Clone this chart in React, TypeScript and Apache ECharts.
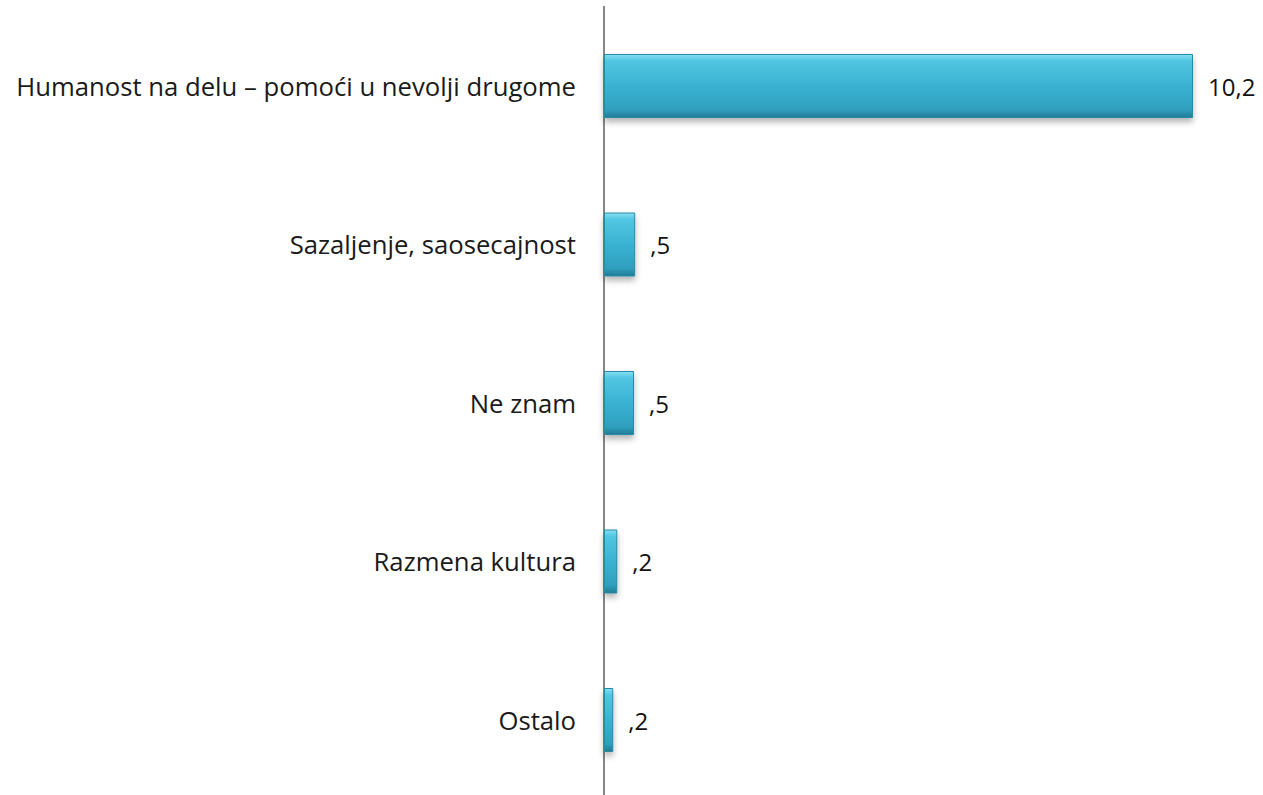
import React, { useEffect, useRef } from "react";
import * as echarts from "echarts";

const categories = [
  "Humanost na delu – pomoći u nevolji drugome",
  "Sazaljenje, saosecajnost",
  "Ne znam",
  "Razmena kultura",
  "Ostalo",
];
const values = [10.2, 0.54, 0.52, 0.23, 0.16];

const fmt = (v: number) => {
  let s = v.toFixed(1).replace(".", ",");
  if (s.startsWith("0,")) s = s.slice(1);
  return s;
};

export default function App() {
  const ref = useRef<HTMLDivElement>(null);
  useEffect(() => {
    if (!ref.current) return;
    const chart = echarts.init(ref.current, null, { renderer: "svg" });
    chart.setOption({
      animation: false,
      backgroundColor: "#ffffff",
      grid: { left: 604, right: 70, top: 6.75, bottom: 0.75, containLabel: false },
      xAxis: {
        type: "value",
        min: 0,
        max: 10.2,
        show: false,
      },
      yAxis: {
        type: "category",
        data: categories,
        inverse: true,
        axisLine: { show: true, lineStyle: { color: "#868686", width: 2 } },
        axisTick: { show: false },
        axisLabel: {
          margin: 28,
          fontFamily: "Open Sans",
          fontSize: 25.7,
          color: "#1a1a1a",
        },
      },
      series: [
        {
          type: "bar",
          data: values,
          barWidth: 64,
          itemStyle: {
            color: new echarts.graphic.LinearGradient(0, 0, 0, 1, [
              { offset: 0, color: "#86e0f2" },
              { offset: 0.1, color: "#52c6e2" },
              { offset: 0.5, color: "#3ab2d2" },
              { offset: 0.88, color: "#2f9fbe" },
              { offset: 1, color: "#227b94" },
            ]),
            borderColor: "#2a8aa6",
            borderWidth: 1,
            shadowBlur: 6,
            shadowOffsetY: 4,
            shadowColor: "rgba(0,0,0,0.3)",
          },
          label: {
            show: true,
            position: "right",
            distance: 15,
            fontFamily: "Open Sans",
            fontSize: 24,
            color: "#111111",
            formatter: (p: any) => fmt(p.value),
          },
        },
      ],
    });
    return () => chart.dispose();
  }, []);
  return (
    <div style={{ position: "absolute", left: 0, top: 0, width: 1263, height: 795, overflow: "hidden" }}>
      <div ref={ref} style={{ width: 1263, height: 800 }} />
    </div>
  );
}
